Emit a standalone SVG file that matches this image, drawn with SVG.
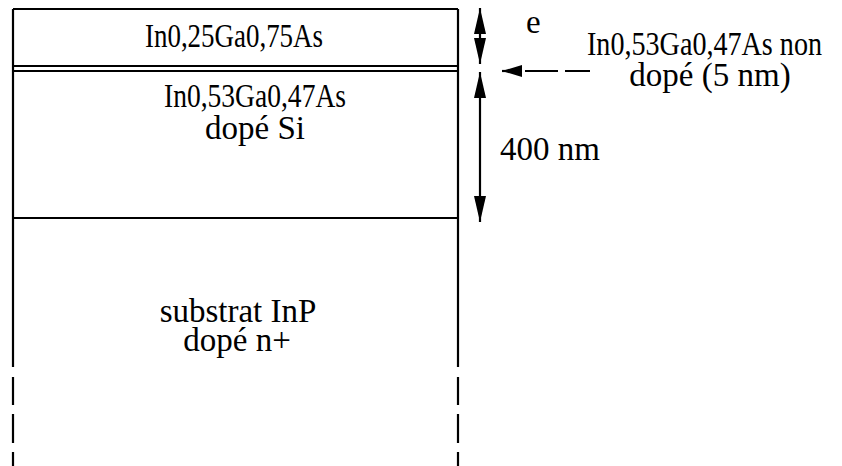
<svg xmlns="http://www.w3.org/2000/svg" width="842" height="466" viewBox="0 0 842 466">
<style>
text{font-family:'Liberation Serif','Times New Roman',Times,serif;font-size:33px;fill:#000}
.m{text-anchor:middle}
.ln{stroke:#000;stroke-width:2.2;fill:none}
.dash{stroke:#000;stroke-width:2.2;fill:none}
</style>
<defs>
<marker id="ah" viewBox="0 0 26 12" refX="26" refY="6" markerWidth="26" markerHeight="12" markerUnits="userSpaceOnUse" orient="auto-start-reverse">
<path d="M0,0 L26,6 L0,12 Z" fill="#000"/>
</marker>
<marker id="ahs" viewBox="0 0 20 12" refX="20" refY="6" markerWidth="20" markerHeight="12" markerUnits="userSpaceOnUse" orient="auto">
<path d="M0,0 L20,6 L0,12 Z" fill="#000"/>
</marker>
</defs>
<rect width="842" height="466" fill="#fff"/>
<g id="layer-top">
<path class="ln" d="M13,9 H458 M13,66 H458"/>
<text class="m" font-family="Liberation Serif, serif" x="234" y="47" textLength="178" lengthAdjust="spacingAndGlyphs">In0,25Ga0,75As</text>
</g>
<g id="layer-spacer">
<path class="ln" d="M13,71 H458"/>
</g>
<g id="layer-doped">
<path class="ln" d="M13,218 H458"/>
<text class="m" font-family="Liberation Serif, serif" x="255" y="107" textLength="182" lengthAdjust="spacingAndGlyphs">In0,53Ga0,47As</text>
<text class="m" font-family="Liberation Serif, serif" x="255" y="139">dopé Si</text>
</g>
<g id="substrate">
<path class="ln" d="M13,9 V367 M458,9 V367"/>
<path class="dash" d="M13,377 V405 M13,414 V443 M13,452 V466 M458,377 V405 M458,414 V443 M458,452 V466"/>
<text class="m" font-family="Liberation Serif, serif" x="238" y="322">substrat InP</text>
<text class="m" font-family="Liberation Serif, serif" x="237" y="351">dopé n+</text>
</g>
<g id="connectors">
<line class="ln" x1="480" y1="8" x2="480" y2="64" marker-start="url(#ah)" marker-end="url(#ah)"/>
<line class="ln" x1="480" y1="72" x2="480" y2="222" marker-start="url(#ah)" marker-end="url(#ah)"/>
<path class="dash" d="M590,71 H565 M558,71 H525"/>
<line x1="522" y1="71" x2="502" y2="71" stroke="#000" stroke-width="2.2" marker-end="url(#ahs)"/>
</g>
<g id="labels">
<text font-family="Liberation Serif, serif" x="526" y="33">e</text>
<text font-family="Liberation Serif, serif" x="587" y="55" textLength="235" lengthAdjust="spacingAndGlyphs">In0,53Ga0,47As non</text>
<text class="m" font-family="Liberation Serif, serif" x="710" y="86">dopé (5 nm)</text>
<text font-family="Liberation Serif, serif" x="500" y="160">400 nm</text>
</g>
</svg>
